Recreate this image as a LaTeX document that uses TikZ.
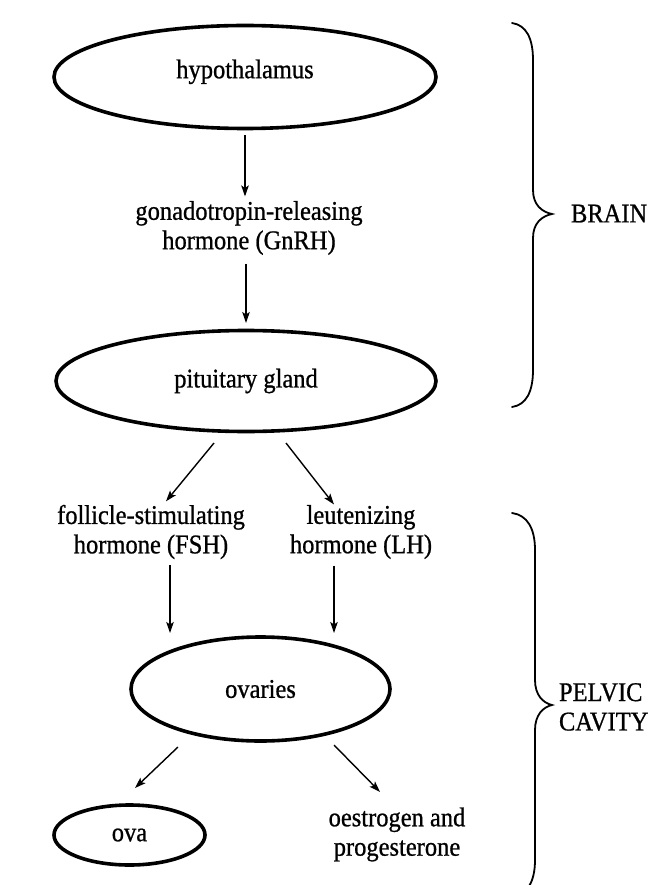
\documentclass[tikz,border=0pt]{standalone}
\usepackage{fontspec}
\setmainfont{Liberation Serif}[FakeStretch=0.907,FakeBold=0.8]
\usetikzlibrary{shapes.geometric,arrows.meta,calc}
\begin{document}
\begin{tikzpicture}[x=1pt,y=-1pt,
  every node/.style={inner sep=0pt,outer sep=0pt,font=\fontsize{27}{29.4}\selectfont},
  organ/.style={draw,ellipse,line width=3.6pt},
  txt/.style={align=center},
  arr/.style={line width=1.4pt,-{Stealth[length=11pt,width=7.5pt,inset=2.5pt]}},
  bracepath/.style={line width=1.8pt,line cap=round}]
\useasboundingbox (0,0) rectangle (650,885);
\fill[white] (0,0) rectangle (650,885);
% nodes
\node[organ,minimum width=382pt,minimum height=103pt,text height=18.4pt,text depth=15.9pt] (hyp) at (245,77) {hypothalamus};
\node[txt] (gnrh) at (249,228) {gonadotropin-releasing\\hormone (GnRH)};
\node[organ,minimum width=380pt,minimum height=101pt] (pit) at (246,381) {pituitary gland};
\node[txt] (fsh) at (151,532) {follicle-stimulating\\hormone (FSH)};
\node[txt] (lh) at (361,532) {leutenizing\\hormone (LH)};
\node[organ,minimum width=259pt,minimum height=104pt] (ov) at (260.5,689) {ovaries};
\node[organ,minimum width=151pt,minimum height=60pt] (ova) at (129.5,835) {ova};
\node[txt] (oest) at (397,834.5) {oestrogen and\\progesterone};
\node[anchor=west] (brain) at (571,213.5) {BRAIN};
\node[anchor=west,align=left] (pelvic) at (559,707) {PELVIC\\CAVITY};
% connectors
\draw[arr] ($(hyp.south)+(0,6.5)$) -- ($(gnrh.north)+(-4,-4.6)$);
\draw[arr] ($(gnrh.south)+(-3,8.8)$) -- ($(pit.north)+(0,-7.5)$);
\draw[arr] ($(pit.south)+(-32,11.5)$) -- ($(fsh.north)+(15,-3.6)$);
\draw[arr] ($(pit.south)+(40,11.5)$) -- ($(lh.north)+(-27,-0.6)$);
\draw[arr] ($(fsh.south)+(19,5.8)$) -- ($(ov.north)+(-90.5,-4)$);
\draw[arr] ($(lh.south)+(-27,6.8)$) -- ($(ov.north)+(73.5,-4)$);
\draw[arr] ($(ov.south)+(-82.5,6)$) -- ($(ova.north)+(5.5,-17)$);
\draw[arr] ($(ov.south)+(73.5,4)$) -- ($(oest.north)+(-17,-15.6)$);
% braces
\draw[bracepath] (512,23) .. controls (526,25) and (533,38) .. (533,60)
  -- (533,190) .. controls (533,205) and (542,212) .. (552,214)
  .. controls (542,216) and (533,223) .. (533,238)
  -- (533,370) .. controls (533,392) and (526,405) .. (512,407);
\draw[bracepath] (512,513) .. controls (527,515) and (535,528) .. (535,550)
  -- (535,680) .. controls (535,695) and (543,703) .. (552,705)
  .. controls (543,707) and (535,715) .. (535,730)
  -- (535,860) .. controls (535,882) and (527,895) .. (512,897);
\end{tikzpicture}
\end{document}
